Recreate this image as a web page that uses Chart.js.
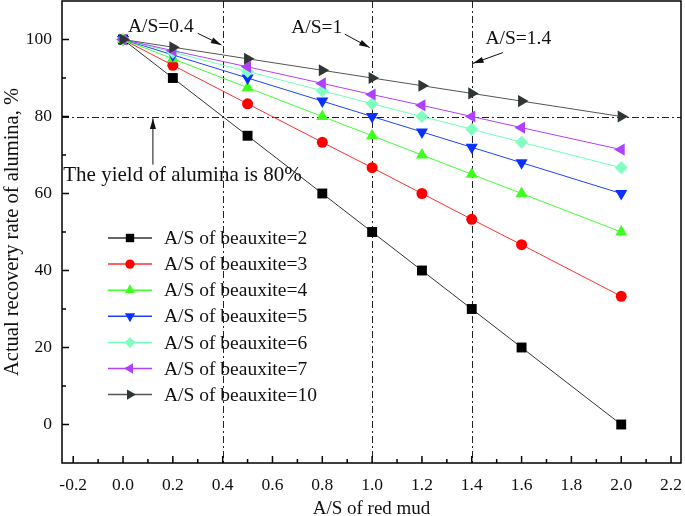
<!DOCTYPE html>
<html>
<head>
<meta charset="utf-8">
<script src="https://cdn.jsdelivr.net/npm/chart.js@4/dist/chart.umd.min.js"></script>
<style>
  html, body { margin: 0; padding: 0; background: #fff; }
  #wrap { width: 685px; height: 516px; }
</style>
</head>
<body>
<div id="wrap"><canvas id="myChart" width="685" height="516"></canvas></div>
<script>
// data
const redMud = [0, 0.2, 0.5, 0.8, 1.0, 1.2, 1.4, 1.6, 2.0];
const bx2  = [100, 90, 75, 60, 50, 40, 30, 20, 0];
const bx3  = [100, 93.3, 83.3, 73.3, 66.7, 60, 53.3, 46.7, 33.3];
const bx4  = [100, 95, 87.5, 80, 75, 70, 65, 60, 50];
const bx5  = [100, 96, 90, 84, 80, 76, 72, 68, 60];
const bx6  = [100, 96.7, 91.7, 86.7, 83.3, 80, 76.7, 73.3, 66.7];
const bx7  = [100, 97.1, 92.9, 88.6, 85.7, 82.9, 80, 77.1, 71.4];
const bx10 = [100, 98, 95, 92, 90, 88, 86, 84, 80];

const seriesNames = ['A/S of beauxite=2', 'A/S of beauxite=3', 'A/S of beauxite=4',
  'A/S of beauxite=5', 'A/S of beauxite=6', 'A/S of beauxite=7', 'A/S of beauxite=10'];
const seriesValues = [bx2, bx3, bx4, bx5, bx6, bx7, bx10];

const xTicks = [-0.2, 0.0, 0.2, 0.4, 0.6, 0.8, 1.0, 1.2, 1.4, 1.6, 1.8, 2.0, 2.2];
const yTicks = [0, 20, 40, 60, 80, 100];

// reference lines
const refX = [0.4, 1.0, 1.4];
const refY = 80;

// styles
const lineColors = ['#333333', '#ff3030', '#40ff30', '#2040ff', '#70ffb8', '#b040ff', '#555555'];
const markColors = ['#000000', '#ff0000', '#40ff20', '#0a30ff', '#80ffc0', '#b040ff', '#303636'];
const markStyles = ['rect', 'circle', 'triangle', 'triangle', 'rectRot', 'triangle', 'triangle'];
const markRot = [0, 0, 0, 180, 0, 270, 90];
const markSize = [7, 5.5, 7, 7, 6.5, 7, 7];

const serif = '"Liberation Serif", "Times New Roman", serif';

const datasets = seriesNames.map((name, i) => ({
  label: name,
  data: redMud.map((x, j) => ({ x: x, y: seriesValues[i][j] })),
  borderColor: lineColors[i],
  borderWidth: 1,
  backgroundColor: markColors[i],
  pointBackgroundColor: markColors[i],
  pointBorderColor: markColors[i],
  pointBorderWidth: 0,
  pointStyle: markStyles[i],
  rotation: markRot[i],
  pointRadius: markSize[i],
  clip: false,
  order: seriesNames.length - i
}));

function drawMark(ctx, style, rot, r, x, y, color) {
  ctx.save();
  ctx.fillStyle = color;
  ctx.strokeStyle = color;
  ctx.lineWidth = 0;
  if (Chart.helpers && Chart.helpers.drawPoint) {
    Chart.helpers.drawPoint(ctx, { pointStyle: style, rotation: rot, radius: r, borderWidth: 0 }, x, y);
  } else {
    ctx.beginPath();
    ctx.arc(x, y, r, 0, Math.PI * 2);
    ctx.fill();
  }
  ctx.restore();
}

function arrow(ctx, x1, y1, x2, y2) {
  const a = Math.atan2(y2 - y1, x2 - x1);
  ctx.beginPath();
  ctx.moveTo(x1, y1);
  ctx.lineTo(x2, y2);
  ctx.stroke();
  ctx.beginPath();
  ctx.moveTo(x2, y2);
  ctx.lineTo(x2 - 11 * Math.cos(a - 0.28), y2 - 11 * Math.sin(a - 0.28));
  ctx.lineTo(x2 - 11 * Math.cos(a + 0.28), y2 - 11 * Math.sin(a + 0.28));
  ctx.closePath();
  ctx.fill();
}

// text labels with arrows, in data coordinates
const notes = [
  { text: 'A/S=0.4', size: 19.5, tx: 0.02, ty: 103.4, ax: [0.30, 101.6], ah: [0.395, 98.6] },
  { text: 'A/S=1', size: 19.5, tx: 0.675, ty: 102.9, ax: [0.89, 101.4], ah: [0.99, 97.9] },
  { text: 'A/S=1.4', size: 19.5, tx: 1.455, ty: 100.1, ax: [1.525, 96.6], ah: [1.405, 93.8] },
  { text: 'The yield of alumina is 80%', size: 21, tx: -0.24, ty: 64.6, ax: [0.12, 67.5], ah: [0.12, 79.5] }
];

const decorPlugin = {
  id: 'decor',
  beforeDatasetsDraw(chart) {
    const { ctx, chartArea: a, scales: { x, y } } = chart;
    ctx.save();
    ctx.strokeStyle = '#222';
    ctx.lineWidth = 1;
    ctx.setLineDash([7, 3, 2, 3]);
    refX.forEach(v => {
      const px = Math.round(x.getPixelForValue(v)) + 0.5;
      ctx.beginPath(); ctx.moveTo(px, a.top); ctx.lineTo(px, a.bottom); ctx.stroke();
    });
    const py = Math.round(y.getPixelForValue(refY)) + 0.5;
    ctx.beginPath(); ctx.moveTo(a.left, py); ctx.lineTo(a.right, py); ctx.stroke();
    ctx.restore();
  },
  afterDatasetsDraw(chart) {
    const { ctx, chartArea: a, scales: { x, y } } = chart;
    ctx.save();
    // frame
    ctx.strokeStyle = '#000';
    ctx.lineWidth = 1.5;
    ctx.strokeRect(a.left, a.top, a.right - a.left, a.bottom - a.top);
    // inward ticks, major + minor
    for (let i = -2; i <= 22; i++) {
      const px = x.getPixelForValue(i / 10);
      const len = i % 2 === 0 ? 7 : 4;
      ctx.beginPath(); ctx.moveTo(px, a.bottom); ctx.lineTo(px, a.bottom - len); ctx.stroke();
    }
    for (let v = 0; v <= 100; v += 10) {
      const py = y.getPixelForValue(v);
      const len = v % 20 === 0 ? 7 : 4;
      ctx.beginPath(); ctx.moveTo(a.left, py); ctx.lineTo(a.left + len, py); ctx.stroke();
    }
    // notes
    ctx.fillStyle = '#111';
    ctx.strokeStyle = '#111';
    ctx.lineWidth = 1;
    ctx.textBaseline = 'middle';
    ctx.textAlign = 'left';
    notes.forEach(n => {
      ctx.font = n.size + 'px ' + serif;
      ctx.fillText(n.text, x.getPixelForValue(n.tx), y.getPixelForValue(n.ty));
      arrow(ctx, x.getPixelForValue(n.ax[0]), y.getPixelForValue(n.ax[1]),
        x.getPixelForValue(n.ah[0]), y.getPixelForValue(n.ah[1]));
    });
    // legend
    ctx.font = '19.5px ' + serif;
    chart.data.datasets.forEach((ds, i) => {
      const cy = a.top + 237 + i * 26.1;
      const lx = a.left + 46;
      ctx.strokeStyle = ds.borderColor;
      ctx.lineWidth = 1.5;
      ctx.beginPath(); ctx.moveTo(lx, cy); ctx.lineTo(lx + 44, cy); ctx.stroke();
      drawMark(ctx, ds.pointStyle, ds.rotation, ds.pointRadius * 0.85, lx + 22, cy, ds.pointBackgroundColor);
      ctx.fillStyle = '#111';
      ctx.fillText(ds.label, lx + 56, cy + 1);
    });
    ctx.restore();
  }
};

const options = {
  responsive: false,
  animation: false,
  layout: { autoPadding: false, padding: { top: 1, right: 4, left: 0, bottom: 0 } },
  plugins: {
    legend: { display: false },
    tooltip: { enabled: false }
  },
  scales: {
    x: {
      type: 'linear',
      min: -0.245,
      max: 2.24,
      afterBuildTicks: s => { s.ticks = xTicks.map(v => ({ value: v })); },
      afterFit: s => { s.height = 53; s.paddingLeft = 0; s.paddingRight = 0; },
      grid: { display: false, drawTicks: false },
      border: { display: false },
      ticks: {
        padding: 12,
        color: '#111',
        font: { family: serif, size: 17.5 },
        maxRotation: 0,
        callback: v => v.toFixed(1)
      },
      title: {
        display: true,
        text: 'A/S of red mud',
        color: '#111',
        font: { family: serif, size: 19, lineHeight: 0.75 },
        padding: { top: 0, bottom: 0 }
      }
    },
    y: {
      min: -10,
      max: 110,
      afterBuildTicks: s => { s.ticks = yTicks.map(v => ({ value: v })); },
      afterFit: s => { s.width = 62; s.paddingTop = 0; s.paddingBottom = 0; },
      grid: { display: false, drawTicks: false },
      border: { display: false },
      ticks: {
        padding: 10,
        color: '#111',
        font: { family: serif, size: 17.5 }
      },
      title: {
        display: true,
        text: 'Actual recovery rate of alumina, %',
        color: '#111',
        font: { family: serif, size: 20.5 },
        padding: { top: 0, bottom: 0 }
      }
    }
  }
};

const config = {
  type: 'line',
  data: { datasets },
  options,
  plugins: [decorPlugin]
};

const myChart = new Chart(document.getElementById('myChart'), config);
</script>
</body>
</html>
